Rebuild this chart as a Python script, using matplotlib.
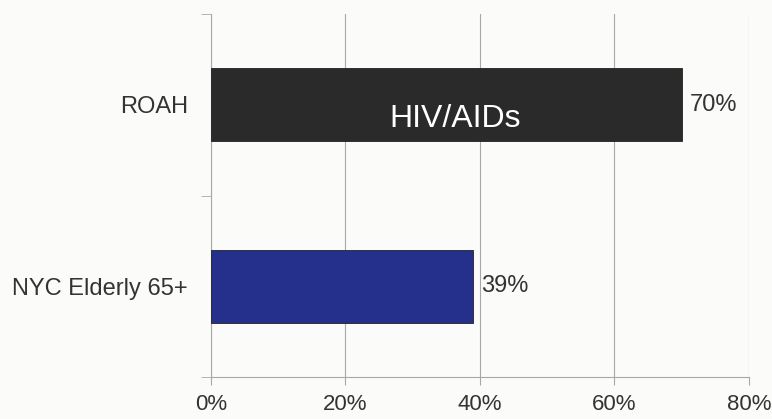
import matplotlib
matplotlib.use("Agg")
import matplotlib.pyplot as plt
from matplotlib.ticker import FuncFormatter

# Share of each group
categories = ["NYC Elderly 65+", "ROAH"]
values = [39, 70]
bar_colors = ["#24308c", "#2a2a2a"]
bar_text = ["", "HIV/AIDs"]
x_ticks = [0, 20, 40, 60, 80]

plt.rcParams["font.family"] = ["Liberation Sans", "DejaVu Sans"]
text_color = "#333333"
line_color = "#a8a8a8"

fig = plt.figure(figsize=(7.72, 4.19), dpi=100, facecolor="#fbfbf9")
ax = fig.add_axes([0.2733, 0.1002, 0.6966, 0.8664])
ax.set_facecolor("#fbfbf9")

ypos = list(range(len(categories)))
bars = ax.barh(ypos, values, height=0.4, color=bar_colors,
               edgecolor="#222222", linewidth=0.6, zorder=3)

ax.set_xlim(0, 80)
ax.set_ylim(-0.5, len(categories) - 0.5)
ax.set_xticks(x_ticks)
ax.xaxis.set_major_formatter(FuncFormatter(lambda v, p: f"{v:.0f}%"))
ax.set_yticks(ypos)
ax.set_yticklabels(categories)
ax.set_yticks([-0.5, 0.5, 1.5], minor=True)

ax.grid(axis="x", color=line_color, linewidth=0.8, zorder=0)
for s in ["top", "right"]:
    ax.spines[s].set_visible(False)
for s in ["left", "bottom"]:
    ax.spines[s].set_color(line_color)
    ax.spines[s].set_linewidth(0.8)

ax.tick_params(axis="x", length=6, color=line_color, labelsize=16,
               labelcolor=text_color, pad=6)
ax.tick_params(axis="y", which="major", length=0, labelsize=17,
               labelcolor=text_color, pad=16.5)
ax.tick_params(axis="y", which="minor", length=7, color=line_color)

for y, v, t in zip(ypos, values, bar_text):
    ax.text(v + 1.2, y, f"{v}%", va="center", ha="left",
            fontsize=17, color=text_color, zorder=4)
    if t:
        ax.text(v / 2 + 1.3, y - 0.08, t, va="center", ha="center",
                fontsize=23, color="white", zorder=4)

fig.savefig("out.png", dpi=100, facecolor=fig.get_facecolor())
